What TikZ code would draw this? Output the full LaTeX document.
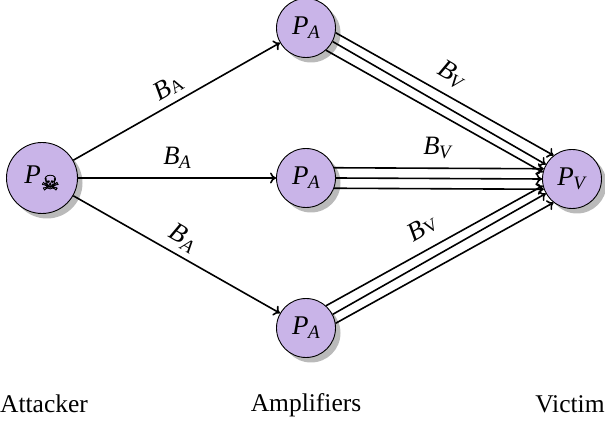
\documentclass[tikz,border=0pt]{standalone}
\usepackage{fontspec}
\setmainfont{Liberation Serif}
\newfontfamily\skullfont[FakeBold=1.5]{DejaVu Sans}
\usetikzlibrary{shadows,arrows.meta}
\definecolor{nodefill}{HTML}{C9B4E8}
\newcommand{\mathlbl}[2]{\textit{#1}\kern-0.5pt\raisebox{-4pt}{\fontsize{19}{19}\selectfont\textit{#2}}}
\newcommand{\mixlbl}[2]{\textit{#1}\kern0.5pt\raisebox{-1pt}{\fontsize{18}{18}\selectfont #2}}
\tikzset{
  x=1pt,y=1pt,
  peer/.style={circle,draw=black,line width=0.9pt,fill=nodefill,inner sep=0pt,minimum size=#1,
    font=\fontsize{27}{28}\selectfont,
    drop shadow={shadow xshift=5pt,shadow yshift=-5pt,fill=black!27,opacity=1}},
  link/.style={line width=1.6pt,-{Computer Modern Rightarrow[length=6pt,width=11pt]}},
  lbl/.style={font=\fontsize{26.5}{27}\selectfont,inner sep=0pt},
  captext/.style={font=\fontsize{25.5}{26}\selectfont,inner sep=0pt,anchor=base},
}
\begin{document}
\begin{tikzpicture}
\useasboundingbox (0,0) rectangle (605,423);
\begin{scope}[yscale=-1,yshift=-423pt]
\node[peer=71pt] (atk) at (42,178) {\mathlbl{P}{\kern0.5pt\skullfont\fontsize{21}{21}\selectfont\upshape\raisebox{-3pt}{☠}}};
\node[peer=59pt] (a1) at (306,28) {\mathlbl{P}{A}};
\node[peer=59pt] (a2) at (306,178) {\mathlbl{P}{A}};
\node[peer=59pt] (a3) at (306,328) {\mathlbl{P}{A}};
\node[peer=59pt] (vic) at (572,179) {\mathlbl{P}{V}};
\draw[link] (atk) -- (a1);
\draw[link] (atk) -- (a2);
\draw[link] (atk) -- (a3);
\draw[link] (a1.-9) -- (vic.128);
\draw[link] (a1.-27) -- (vic.151);
\draw[link] (a1.-48) -- (vic.167);
\draw[link] (a2.20) -- (vic.160);
\draw[link] (a2.0) -- (vic.180);
\draw[link] (a2.-20) -- (vic.200);
\draw[link] (a3.48) -- (vic.193);
\draw[link] (a3.27) -- (vic.209);
\draw[link] (a3.9) -- (vic.232);
\node[lbl,rotate=30] (l1) at (168,87) {\mixlbl{B}{A}};
\node[lbl] (l2) at (177,158) {\mathlbl{B}{A}};
\node[lbl,rotate=-30] (l3) at (183,238) {\mathlbl{B}{A}};
\node[lbl,rotate=-30] (l4) at (452,75) {\mathlbl{B}{V}};
\node[lbl] (l5) at (438,148) {\mathlbl{B}{V}};
\node[lbl,rotate=30] (l6) at (422,228) {\mixlbl{B}{V}};
\node[captext] (t1) at (44,413) {Attacker};
\node[captext] (t2) at (306,411) {Amplifiers};
\node[captext] (t3) at (570,413) {Victim};
\end{scope}
\end{tikzpicture}
\end{document}
